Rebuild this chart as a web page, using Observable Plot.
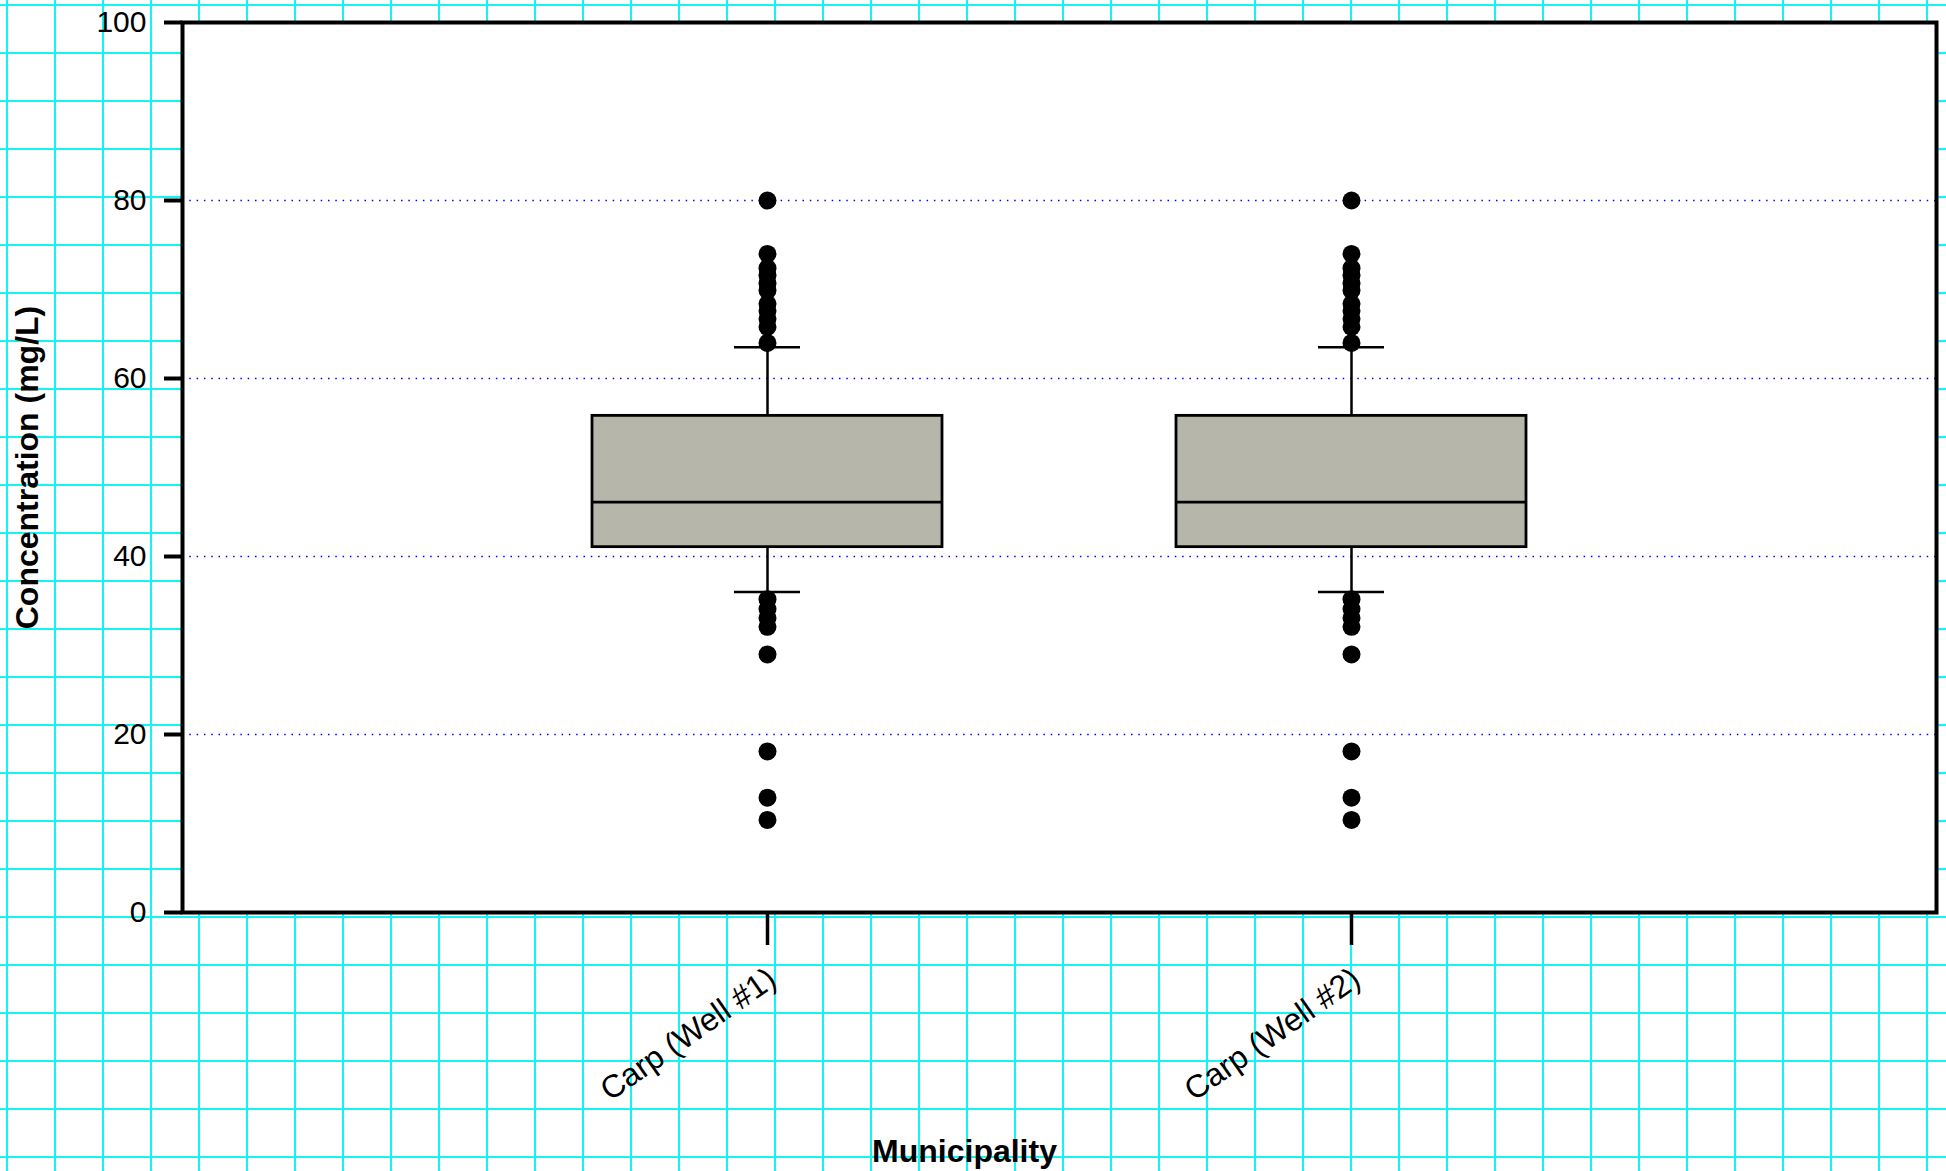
<!DOCTYPE html>
<html>
<head>
<meta charset="utf-8">
<script src="https://cdn.jsdelivr.net/npm/d3@7"></script>
<script src="https://cdn.jsdelivr.net/npm/@observablehq/plot@0.6"></script>
<style>
  html, body { margin: 0; padding: 0; background: white; }
</style>
</head>
<body>
<div id="chart"></div>
<script>
// ---- data ----
const categories = ["Carp (Well #1)", "Carp (Well #2)"];
const q1Values = [41.05, 41.05];
const medianValues = [46.1, 46.1];
const q3Values = [55.8, 55.8];
const upperWhiskers = [63.5, 63.5];
const lowerWhiskers = [36.0, 36.0];
const outliersWell1 = [80, 74.0, 72.4, 71.6, 70.7, 69.9, 68.4, 67.6, 66.7, 65.8, 64.0,
                       35.2, 34.1, 33.1, 32.1, 29.0, 18.1, 12.9, 10.4];
const outliersWell2 = [80, 74.0, 72.4, 71.6, 70.7, 69.9, 68.4, 67.6, 66.7, 65.8, 64.0,
                       35.2, 34.1, 33.1, 32.1, 29.0, 18.1, 12.9, 10.4];
const yTicks = [0, 20, 40, 60, 80, 100];
const yGrid = [20, 40, 60, 80];

// ---- tables built from the arrays ----
const boxes = categories.map((c, i) => ({
  cat: c, q1: q1Values[i], med: medianValues[i], q3: q3Values[i],
  hi: upperWhiskers[i], lo: lowerWhiskers[i]
}));
const outliers = [
  ...outliersWell1.map(v => ({cat: categories[0], v})),
  ...outliersWell2.map(v => ({cat: categories[1], v}))
];

const font = "'Liberation Sans', Arial, Helvetica, sans-serif";

const chart = Plot.plot({
  width: 1946,
  height: 1171,
  marginLeft: 182,
  marginRight: 10,
  marginTop: 22,
  marginBottom: 259,
  style: {
    fontFamily: font,
    color: "black",
    backgroundColor: "white",
    backgroundImage: "linear-gradient(to right, #14f4f4 2px, transparent 2px), linear-gradient(to bottom, #14f4f4 2px, transparent 2px)",
    backgroundSize: "48px 48px",
    backgroundPosition: "6px 4px"
  },
  x: {type: "band", domain: categories, paddingInner: 0.4, paddingOuter: 0.7, label: null},
  y: {domain: [0, 100], label: null},
  marks: [
    Plot.frame({fill: "white", stroke: null}),
    Plot.gridY(yGrid, {stroke: "#0000ff", strokeOpacity: 1, strokeWidth: 1.5, strokeDasharray: "1.5,5.8"}),
    Plot.axisY({ticks: yTicks, tickSize: 18, tickPadding: 18, fontSize: 30, strokeWidth: 4, label: null}),
    Plot.axisX({tickSize: 33, tickFormat: () => "", strokeWidth: 3.5, label: null}),
    Plot.axisX({tickSize: 0, tickPadding: 63, tickRotate: -35, fontSize: 32, label: null, dx: 5}),
    Plot.ruleX(boxes, {x: "cat", y1: "q3", y2: "hi", stroke: "black", strokeWidth: 2.5}),
    Plot.ruleX(boxes, {x: "cat", y1: "lo", y2: "q1", stroke: "black", strokeWidth: 2.5}),
    Plot.tickY(boxes, {x: "cat", y: "hi", stroke: "black", strokeWidth: 2.5, insetLeft: 142, insetRight: 142}),
    Plot.tickY(boxes, {x: "cat", y: "lo", stroke: "black", strokeWidth: 2.5, insetLeft: 142, insetRight: 142}),
    Plot.barY(boxes, {x: "cat", y1: "q1", y2: "q3", fill: "#b6b6aa", stroke: "black", strokeWidth: 2.8}),
    Plot.tickY(boxes, {x: "cat", y: "med", stroke: "black", strokeWidth: 2.8}),
    Plot.dot(outliers, {x: "cat", y: "v", r: 9, fill: "black", stroke: null}),
    Plot.text(["Concentration (mg/L)"], {frameAnchor: "left", textAnchor: "middle", dx: -155, rotate: -90, fontSize: 32, fontWeight: "bold", fill: "black"}),
    Plot.text(["Municipality"], {frameAnchor: "bottom", dx: -95, dy: 249, fontSize: 32, fontWeight: "bold", fill: "black"}),
    Plot.frame({stroke: "black", strokeWidth: 4})
  ]
});
document.getElementById("chart").appendChild(chart);
</script>
</body>
</html>
